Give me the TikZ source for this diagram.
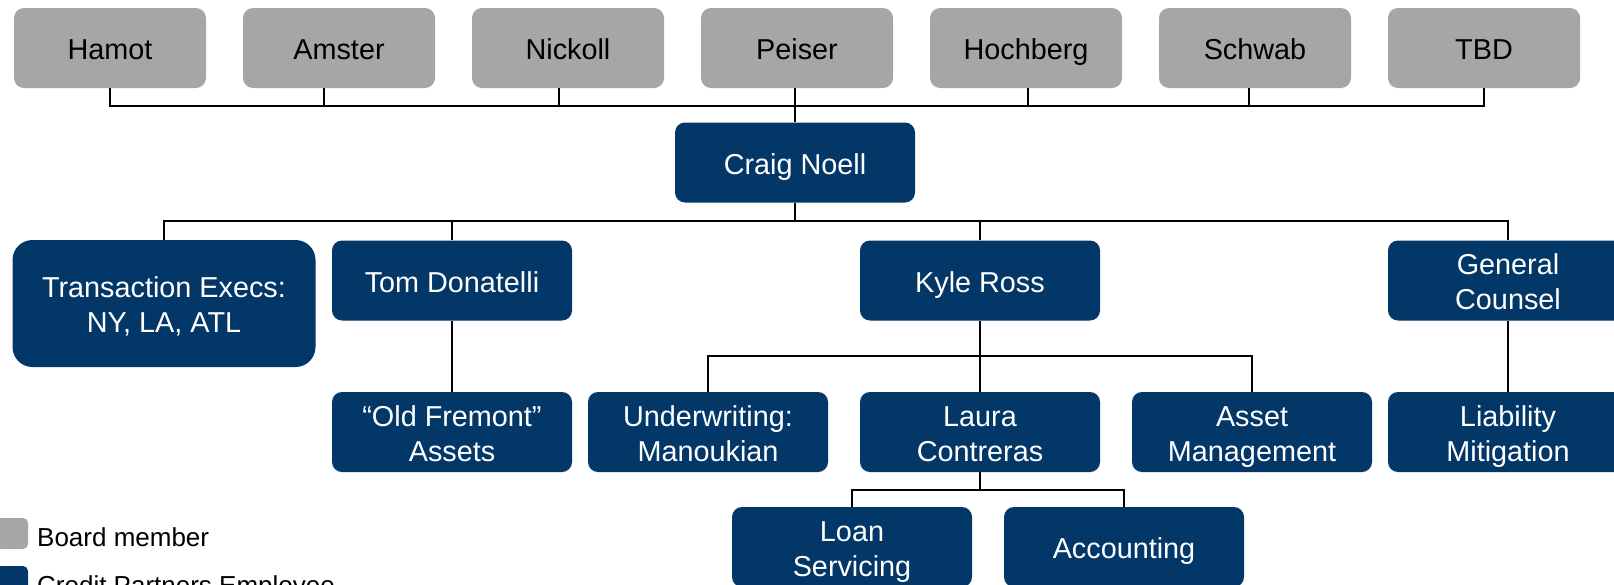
\documentclass[tikz,border=0pt]{standalone}
\usepackage{fontspec}
\setmainfont{Liberation Sans}
\definecolor{boardgray}{HTML}{A6A6A6}
\definecolor{cpblue}{HTML}{033768}
\newcommand\twoline[2]{\rule[-7pt]{0pt}{37pt}\makebox[0pt][c]{\smash{\raisebox{17.5pt}{#1}}}\makebox[0pt][c]{\smash{\raisebox{-17.5pt}{#2}}}}
\tikzset{
  boxfont/.style={font=\fontsize{28.8}{33.5}\selectfont,
    execute at begin node={\rule{0pt}{30pt}},
    execute at end node={\rule[-7pt]{0pt}{7pt}}},
  board/.style={boxfont, rounded corners=10pt, fill=boardgray, text=black,
    minimum width=192pt, minimum height=80pt, inner sep=0pt},
  emp/.style={boxfont, rounded corners=10pt, fill=cpblue, text=white,
    minimum width=240pt, minimum height=80pt, inner sep=0pt},
  link/.style={draw=black, line width=1.6pt},
  legtext/.style={font=\fontsize{26}{30}\selectfont, anchor=base west, inner sep=0pt}
}
\begin{document}
\begin{tikzpicture}[x=1pt, y=-1pt]
\useasboundingbox (0,0) rectangle (1614,584);
\clip (0,0) rectangle (1614,584);
\fill[white] (0,0) rectangle (1614,584);
% board
\node[board] (hamot)    at (110,48)  {Hamot};
\node[board] (amster)   at (339,48)  {Amster};
\node[board] (nickoll)  at (568,48)  {Nickoll};
\node[board] (peiser)   at (797,48)  {Peiser};
\node[board] (hochberg) at (1026,48) {Hochberg};
\node[board] (schwab)   at (1255,48) {Schwab};
\node[board] (tbd)      at (1484,48) {TBD};
% employees
\node[emp] (craig) at (795,162.5) {Craig Noell};
\node[emp, minimum width=303pt, minimum height=127pt, rounded corners=20pt] (te) at (164,303.5) {\twoline{Transaction Execs:}{NY, LA, ATL}};
\node[emp] (tom)  at (452,280.5) {Tom Donatelli};
\node[emp] (kyle) at (980,280.5) {Kyle Ross};
\node[emp] (gc)   at (1508,280.5) {\twoline{General}{Counsel}};
\node[emp] (oldf) at (452,432) {\twoline{“Old Fremont”}{Assets}};
\node[emp] (uw)   at (708,432) {\twoline{Underwriting:}{Manoukian}};
\node[emp] (laura) at (980,432) {\twoline{Laura}{Contreras}};
\node[emp] (am)   at (1252,432) {\twoline{Asset}{Management}};
\node[emp] (lm)   at (1508,432) {\twoline{Liability}{Mitigation}};
\node[emp] (loan) at (852,547) {\twoline{Loan}{Servicing}};
\node[emp] (acc)  at (1124,547) {Accounting};
% buses
\coordinate (bus1) at (795,106);
\coordinate (bus2) at (795,221);
\coordinate (bus3) at (980,356);
\coordinate (bus4) at (980,490);
% board connectors
\draw[link] (hamot.south) |- (bus1) -| (tbd.south);
\draw[link] ([xshift=-15pt]amster.south) -- ([xshift=-15pt]amster.south |- bus1);
\draw[link] ([xshift=-9pt]nickoll.south) -- ([xshift=-9pt]nickoll.south |- bus1);
\draw[link] (craig.north) -- (craig.north |- peiser.south);
\draw[link] ([xshift=2pt]hochberg.south) -- ([xshift=2pt]hochberg.south |- bus1);
\draw[link] ([xshift=-6pt]schwab.south) -- ([xshift=-6pt]schwab.south |- bus1);
% level 2
\draw[link] (craig.south) -- (bus2);
\draw[link] (te.north) |- (bus2) -| (gc.north);
\draw[link] (tom.north) -- (tom.north |- bus2);
\draw[link] (kyle.north) -- (kyle.north |- bus2);
% level 3
\draw[link] (tom.south) -- (oldf.north);
\draw[link] (gc.south) -- (lm.north);
\draw[link] (kyle.south) -- (laura.north);
\draw[link] (uw.north) |- (bus3) -| (am.north);
% level 4
\draw[link] (laura.south) -- (bus4);
\draw[link] (loan.north) |- (bus4) -| (acc.north);
% legend
\fill[boardgray, rounded corners=5pt] (-4,518) rectangle (28,549);
\node[legtext] (legboard) at (37,546) {Board member};
\fill[cpblue, rounded corners=5pt] (-4,566) rectangle (28,597);
\node[legtext] (legemp) at (37,594) {Credit Partners Employee};
\end{tikzpicture}
\end{document}
